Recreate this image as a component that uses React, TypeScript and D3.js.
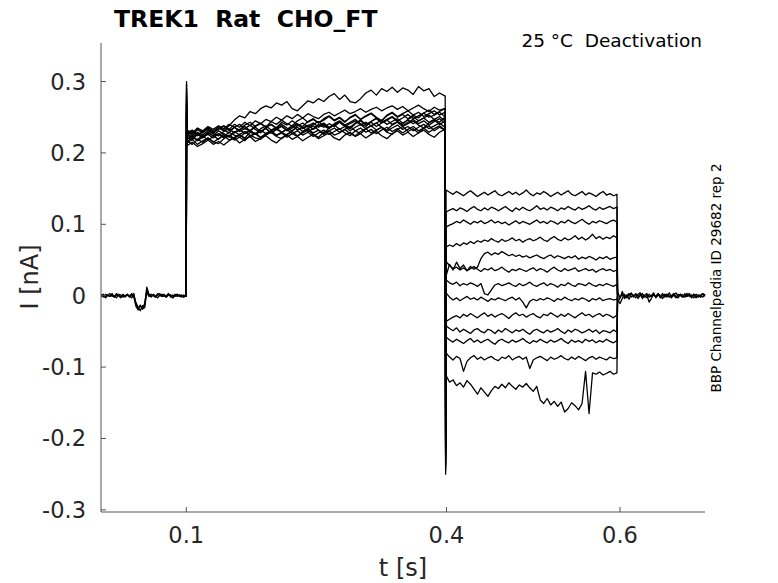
import React from "react";
import * as d3 from "d3";

// all current values are in pA

// holding level before the first step (0 - 0.1 s)
const holdBefore = [
  [1, -2, 2, 0, -1, 3, -2, 1, 0, -3, 2, -1, 1, -2, 0, 3, -12, -17, -14, -19, -15, 12, 2, -1, 1, -2, 3, 0, -1, 2, -2, 1, 0, -3, 2, -1, 1, 0, -2, 1],
  [-1, 2, -2, 1, 3, -1, 0, -3, 2, 1, -2, 0, 2, -1, 3, -2, -15, -20, -13, -18, -11, 8, 1, -2, 2, 0, -3, 1, 2, -1, 0, 3, -2, 1, -1, 2, 0, -2, 1, -1],
  [2, 0, -3, 1, -1, 2, -2, 3, 0, -1, 1, -2, 2, 0, -3, 1, -10, -16, -21, -14, -17, 5, -1, 2, 0, -2, 1, 3, -1, 0, -2, 2, 1, -3, 0, 2, -1, 1, -2, 0],
];

// holding level after the test step (0.6 - 0.7 s)
const holdAfter = [
  [-6, -11, -4, 2, -3, 1, 4, -2, 3, -1, 2, -4, 1, 3, -2, 0, 4, -3, 1, -1, 3, -2, 2, 0, -3, 1, 4, -1, 2, -2, 0, 3, -1, 1, -3, 2, 0, -2, 3, 1],
  [4, -3, 6, -2, 1, -5, 3, -1, 2, -4, 0, 3, -2, 1, -9, -4, 2, -1, 3, -3, 0, 2, -2, 4, -1, 1, -3, 2, 0, -2, 3, -1, 1, -3, 2, 0, -2, 1, 3, -1],
  [-9, -3, 2, -4, 0, 3, -2, 1, -3, 2, 4, -1, 0, -3, 2, -1, 1, -2, 3, 0, -4, 1, 2, -2, 0, 3, -1, -3, 2, 1, -2, 0, 3, -1, 2, -3, 1, 0, -2, 2],
];

// capacitive peak at the start of the first step, per sweep
const onsetPeak = [300, 296, 290, 285, 280, 276, 272, 268, 265, 262, 258, 255, 252];

// first step (0.1 - 0.4 s), one row per sweep
const stepOne = [
  [226, 231, 224, 229, 233, 227, 235, 231, 238, 246, 252, 249, 258, 255, 262, 266, 263, 270, 267, 272, 262, 259, 266, 273, 270, 276, 272, 279, 283, 275, 281, 272, 270, 276, 284, 288, 281, 290, 286, 292, 285, 291, 288, 282, 293, 287, 290, 279, 284, 280],
  [230, 224, 233, 228, 236, 230, 234, 238, 233, 240, 236, 243, 238, 245, 241, 247, 244, 250, 246, 252, 248, 254, 249, 255, 251, 248, 254, 257, 252, 256, 260, 255, 258, 262, 257, 261, 264, 259, 263, 266, 261, 265, 259, 263, 267, 262, 258, 264, 260, 262],
  [222, 218, 226, 221, 228, 224, 219, 227, 223, 230, 225, 221, 229, 226, 232, 227, 231, 235, 229, 233, 238, 232, 236, 230, 234, 240, 236, 241, 237, 243, 239, 236, 242, 246, 240, 244, 249, 243, 247, 251, 245, 249, 254, 248, 252, 256, 250, 253, 257, 251],
  [214, 219, 212, 217, 221, 215, 220, 224, 218, 222, 226, 219, 223, 227, 221, 225, 229, 223, 220, 226, 230, 224, 228, 232, 226, 222, 229, 231, 225, 228, 233, 227, 224, 230, 234, 228, 232, 236, 229, 226, 233, 237, 230, 234, 228, 235, 238, 231, 236, 232],
  [231, 226, 233, 229, 235, 230, 237, 232, 228, 236, 240, 234, 231, 238, 242, 236, 240, 235, 243, 239, 245, 240, 237, 244, 248, 242, 246, 251, 245, 249, 243, 250, 254, 247, 252, 256, 250, 245, 253, 257, 251, 255, 259, 253, 249, 256, 260, 254, 258, 262],
  [219, 224, 217, 222, 226, 221, 227, 223, 229, 225, 222, 228, 232, 226, 230, 235, 228, 233, 229, 225, 231, 236, 230, 234, 238, 232, 227, 235, 239, 233, 237, 231, 236, 240, 234, 238, 242, 236, 232, 239, 243, 237, 241, 245, 239, 235, 242, 246, 240, 244],
  [227, 222, 229, 225, 231, 227, 224, 230, 234, 228, 232, 237, 231, 226, 234, 238, 232, 236, 240, 235, 231, 238, 242, 236, 240, 244, 238, 234, 241, 245, 239, 243, 247, 241, 237, 244, 248, 242, 246, 250, 244, 240, 247, 251, 245, 249, 253, 247, 243, 250],
  [210, 215, 209, 213, 218, 212, 216, 211, 217, 221, 214, 219, 223, 216, 220, 224, 218, 214, 221, 225, 219, 223, 217, 222, 226, 220, 224, 228, 221, 218, 225, 229, 223, 227, 221, 226, 230, 224, 220, 227, 231, 225, 229, 223, 228, 232, 226, 222, 229, 233],
  [228, 232, 225, 230, 235, 229, 233, 238, 231, 236, 230, 234, 239, 233, 228, 236, 240, 234, 238, 232, 237, 241, 235, 239, 233, 238, 242, 236, 240, 244, 238, 234, 241, 245, 239, 243, 237, 242, 246, 240, 244, 238, 243, 247, 241, 245, 239, 244, 248, 242],
  [216, 221, 219, 224, 218, 223, 227, 221, 225, 220, 226, 230, 224, 228, 222, 227, 231, 225, 229, 233, 227, 223, 230, 234, 228, 232, 226, 231, 235, 229, 233, 237, 231, 227, 234, 238, 232, 236, 230, 235, 239, 233, 237, 231, 236, 240, 234, 238, 242, 236],
  [232, 228, 235, 231, 237, 233, 238, 234, 240, 236, 232, 239, 243, 237, 241, 236, 244, 240, 246, 241, 238, 245, 249, 243, 247, 242, 248, 252, 246, 250, 244, 249, 253, 247, 251, 255, 249, 245, 252, 256, 250, 254, 248, 253, 257, 251, 255, 259, 253, 257],
  [217, 212, 219, 215, 221, 216, 213, 220, 224, 218, 222, 217, 225, 221, 219, 226, 230, 224, 228, 222, 227, 231, 225, 229, 223, 228, 232, 226, 230, 234, 228, 224, 231, 235, 229, 233, 227, 232, 236, 230, 234, 228, 233, 237, 231, 235, 229, 234, 238, 232],
  [225, 220, 227, 223, 229, 224, 231, 226, 222, 229, 233, 227, 231, 236, 230, 234, 228, 233, 237, 231, 235, 240, 234, 238, 242, 236, 240, 235, 239, 243, 237, 241, 245, 239, 243, 238, 242, 246, 240, 244, 248, 242, 246, 241, 245, 249, 243, 247, 251, 245],
];

// capacitive dip at the start of the test step, per sweep
const offsetDip = [-250, -245, -240, -236, -232, -228, -224, -220, -216, -212, -208, -204, -200];

// test step (0.4 - 0.6 s), one row per sweep
const stepTwo = [
  [148, 145, 142, 146, 143, 140, 144, 147, 143, 139, 142, 145, 141, 144, 147, 142, 140, 143, 146, 142, 145, 141, 144, 148, 143, 140, 144, 142, 146, 143, 139, 142, 145, 141, 144, 147, 142, 140, 143, 146, 141, 144, 142, 139, 143, 146, 141, 143, 140, 142],
  [117, 120, 122, 119, 123, 121, 118, 122, 125, 121, 119, 123, 120, 124, 122, 119, 122, 125, 121, 118, 123, 120, 124, 121, 119, 122, 126, 121, 123, 120, 124, 122, 119, 123, 121, 125, 122, 120, 124, 121, 123, 126, 122, 120, 124, 121, 123, 125, 122, 124],
  [96, 99, 101, 104, 102, 106, 103, 100, 104, 102, 105, 101, 103, 106, 102, 104, 101, 103, 99, 102, 105, 101, 104, 102, 100, 103, 106, 102, 104, 101, 105, 103, 100, 104, 102, 106, 103, 101, 104, 107, 103, 100, 104, 102, 105, 103, 101, 104, 106, 103],
  [68, 71, 69, 73, 70, 74, 72, 76, 73, 77, 75, 78, 76, 80, 77, 75, 79, 76, 78, 81, 77, 79, 75, 78, 80, 77, 79, 82, 78, 76, 80, 83, 79, 77, 81, 78, 80, 84, 79, 82, 78, 81, 86, 80, 83, 79, 82, 80, 84, 81],
  [28, 44, 36, 47, 38, 43, 35, 41, 37, 40, 52, 59, 61, 57, 60, 58, 62, 59, 56, 58, 55, 57, 54, 56, 53, 55, 57, 54, 52, 55, 57, 53, 56, 54, 52, 55, 53, 56, 51, 54, 52, 55, 53, 50, 54, 52, 55, 51, 53, 54],
  [48, 42, 38, 40, 36, 39, 35, 38, 41, 37, 34, 38, 36, 39, 35, 37, 40, 36, 33, 37, 35, 38, 36, 34, 37, 39, 35, 38, 36, 33, 37, 40, 36, 34, 38, 35, 37, 39, 34, 36, 38, 35, 37, 33, 36, 38, 35, 37, 34, 36],
  [22, 18, 16, 19, 14, 17, 15, 18, 16, 13, 17, 3, 1, 8, 15, 17, 14, 16, 18, 15, 13, 17, 14, 16, 19, 15, 13, 16, 18, 14, 17, 15, 12, 16, 14, 18, 15, 13, 17, 16, 14, 18, 15, 13, 16, 14, 17, 15, 13, 16],
  [4, -2, -6, -3, -7, -4, -1, -5, -3, -6, -2, -5, -8, -4, -6, -3, -5, -7, -4, -2, -6, -3, -9, -17, -8, -5, -7, -4, -6, -3, -5, -8, -4, -6, -2, -5, -7, -4, -6, -3, -5, -8, -4, -6, -3, -7, -5, -4, -6, -5],
  [-36, -33, -30, -28, -31, -26, -29, -25, -28, -31, -27, -24, -29, -26, -30, -27, -25, -28, -32, -27, -24, -28, -26, -30, -27, -25, -29, -31, -26, -28, -24, -27, -30, -26, -29, -25, -28, -31, -27, -24, -28, -26, -30, -27, -25, -29, -26, -28, -31, -27],
  [-42, -46, -49, -45, -51, -47, -50, -53, -48, -46, -50, -52, -47, -49, -53, -48, -51, -46, -49, -52, -48, -50, -47, -51, -54, -49, -47, -50, -52, -48, -51, -49, -46, -50, -53, -48, -51, -47, -49, -52, -50, -47, -51, -48, -53, -49, -50, -52, -48, -51],
  [-58, -62, -65, -61, -64, -67, -63, -60, -65, -62, -66, -63, -61, -65, -68, -63, -61, -64, -66, -62, -65, -63, -60, -64, -67, -63, -65, -61, -64, -66, -62, -65, -63, -60, -64, -67, -62, -65, -63, -66, -61, -64, -62, -66, -63, -65, -61, -64, -66, -63],
  [-80, -86, -90, -85, -88, -106, -92, -87, -84, -89, -86, -90, -87, -85, -89, -91, -86, -88, -84, -90, -87, -85, -89, -86, -102, -90, -87, -85, -88, -91, -86, -89, -87, -84, -88, -90, -86, -89, -85, -88, -91, -87, -85, -89, -86, -88, -90, -86, -88, -87],
  [-112, -121, -118, -126, -122, -128, -119, -124, -131, -138, -129, -135, -141, -133, -127, -130, -124, -129, -122, -127, -131, -125, -128, -123, -129, -134, -127, -146, -151, -144, -153, -148, -155, -149, -163, -158, -150, -154, -160, -151, -106, -165, -108, -110, -107, -111, -109, -106, -110, -108],
];

const xTicks = [0.1, 0.4, 0.6];
const yTicks = [-0.3, -0.2, -0.1, 0, 0.1, 0.2, 0.3];

const W = 778;
const H = 583;
const left = 101;
const right = 705;
const top = 43;
const bottom = 512;
const font = "DejaVu Sans, sans-serif";
const ink = "#262626";

// evenly spaced sample times for a segment
const grid = (a: number, b: number, n: number) =>
  d3.range(n).map((i) => a + (i * (b - a)) / (n - 1));

const toPts = (t0: number, t1: number, vals: number[]): [number, number][] => {
  const ts = grid(t0, t1, vals.length);
  return vals.map((v, i) => [ts[i], v / 1000]);
};

export default function App() {
  const x = d3.scaleLinear().domain([0.0017, 0.698]).range([left, right]);
  const y = d3.scaleLinear().domain([-0.303, 0.354]).range([bottom, top]);
  const line = d3
    .line<[number, number]>()
    .x((d) => x(d[0]))
    .y((d) => y(d[1]));

  const sweeps = stepOne.map((cond, k) => {
    const test = stepTwo[k];
    const pts: [number, number][] = [
      [0.0995, 0],
      [0.1, 0],
      [0.1003, onsetPeak[k] / 1000],
      ...toPts(0.1008, 0.398, cond),
      [0.3985, cond[cond.length - 1] / 1000],
      [0.399, offsetDip[k] / 1000],
      ...toPts(0.3995, 0.5965, test),
      [0.5972, 0],
    ];
    return line(pts) || "";
  });

  const before = holdBefore.map((h) => line(toPts(0.002, 0.0995, h)) || "");
  const after = holdAfter.map((h) => line(toPts(0.5975, 0.698, h)) || "");

  return (
    <div style={{ position: "absolute", left: 0, top: 0 }}>
      <svg width={W} height={H} style={{ display: "block", background: "#fff" }}>
        <g fill="none" stroke="#000" strokeWidth={1.3} strokeLinejoin="round">
          {before.map((d, i) => (
            <path key={"b" + i} d={d} />
          ))}
          {sweeps.map((d, i) => (
            <path key={"s" + i} d={d} />
          ))}
          {after.map((d, i) => (
            <path key={"a" + i} d={d} />
          ))}
        </g>

        {/* axes */}
        <g stroke="#555" strokeWidth={1} fill="none">
          <line x1={left} x2={left} y1={top} y2={bottom} />
          <line x1={left} x2={right} y1={bottom} y2={bottom} />
          {yTicks.map((v) => (
            <line key={v} x1={left} x2={left + 5} y1={y(v)} y2={y(v)} />
          ))}
          {xTicks.map((v) => (
            <line key={v} x1={x(v)} x2={x(v)} y1={bottom} y2={bottom - 5} />
          ))}
        </g>
        <g fontFamily={font} fontSize={22.5} fill={ink}>
          {yTicks.map((v) => (
            <text key={v} x={left - 15} y={y(v)} textAnchor="end" dominantBaseline="central">
              {v === 0 ? "0" : v.toFixed(1)}
            </text>
          ))}
          {xTicks.map((v) => (
            <text key={v} x={x(v)} y={543} textAnchor="middle">
              {v.toFixed(1)}
            </text>
          ))}
        </g>
        <text x={(left + right) / 2} y={576} textAnchor="middle" fontFamily={font} fontSize={24} fill={ink}>
          t [s]
        </text>
        <text
          transform="translate(38,277) rotate(-90)"
          textAnchor="middle"
          fontFamily={font}
          fontSize={24}
          fill={ink}
        >
          I [nA]
        </text>

        <text x={114} y={27} fontFamily={font} fontSize={23.5} fontWeight="bold" fill="#000">
          TREK1{"\u00a0\u00a0"}Rat{"\u00a0\u00a0"}CHO_FT
        </text>
        <text x={702} y={47} textAnchor="end" fontFamily={font} fontSize={18.5} fill="#000">
          25 °C{"\u00a0\u00a0"}Deactivation
        </text>
        <text
          transform="translate(721,278) rotate(-90)"
          textAnchor="middle"
          fontFamily={font}
          fontSize={13.5}
          fill="#000"
        >
          BBP Channelpedia ID 29682 rep 2
        </text>
      </svg>
    </div>
  );
}
